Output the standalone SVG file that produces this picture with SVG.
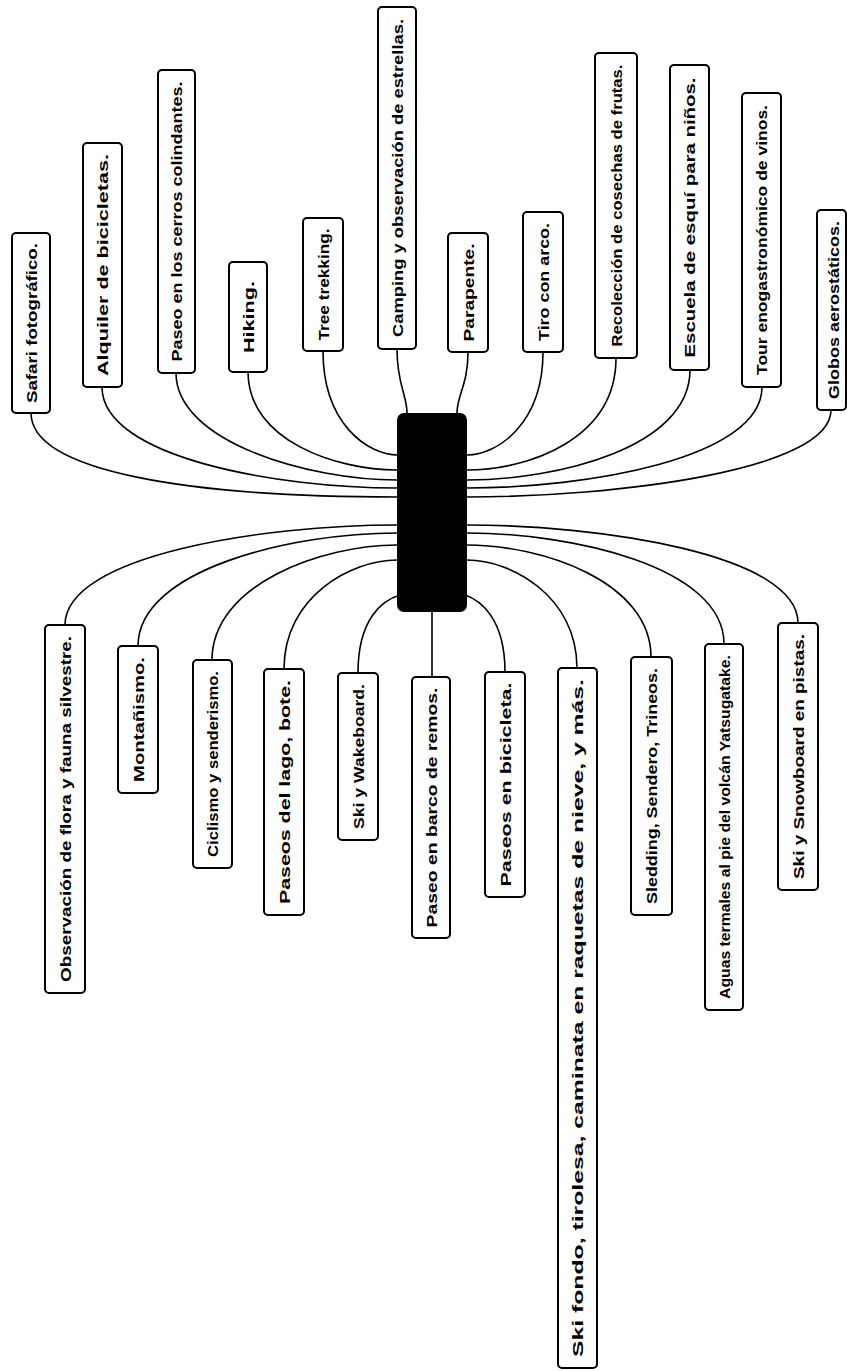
<svg xmlns="http://www.w3.org/2000/svg" width="847" height="1371" viewBox="0 0 847 1371">
<style>
.box{fill:#fff;stroke:#000;stroke-width:2}
.lbl{font-family:"Liberation Sans",Arial,sans-serif;font-size:15px;font-weight:bold;fill:#000;text-anchor:middle;dominant-baseline:central}
.con{fill:none;stroke:#000;stroke-width:1.6}
</style>
<rect width="847" height="1371" fill="#fff"/>
<g id="connectors">
<path class="con" d="M31,413 C31,472 191,497 397,497"/>
<path class="con" d="M102,387 C102,458 279,488 397,488"/>
<path class="con" d="M176,373 C176,442 309,480 397,480"/>
<path class="con" d="M248,372 C248,441 337,470 397,470"/>
<path class="con" d="M323,351 C323,424 368,455 398,455"/>
<path class="con" d="M397,349 C397,385 407,395 407,413"/>
<path class="con" d="M468,352 C468,385 457,395 457,413"/>
<path class="con" d="M543,352 C543,424 497,455 467,455"/>
<path class="con" d="M616,358 C616,440 527,470 467,470"/>
<path class="con" d="M690,370 C690,448 556,480 467,480"/>
<path class="con" d="M762,387 C762,459 585,488 467,488"/>
<path class="con" d="M831,410 C831,471 613,497 467,497"/>
<path class="con" d="M65,625 C65,555 264,525 397,525"/>
<path class="con" d="M138,646 C138,569 293,533 397,533"/>
<path class="con" d="M212,660 C212,584 323,545 397,545"/>
<path class="con" d="M284,669 C284,596 352,560 397,560"/>
<path class="con" d="M358,673 C358,618 383,600 400,595"/>
<path class="con" d="M432,612 L432,677" stroke-width="2.2"/>
<path class="con" d="M505,672 C505,618 480,600 465,595"/>
<path class="con" d="M577,668 C577,596 511,560 467,560"/>
<path class="con" d="M651,657 C651,581 541,545 467,545"/>
<path class="con" d="M724,644 C724,566 570,533 467,533"/>
<path class="con" d="M798,623 C798,554 599,525 467,525"/>
</g>
<g id="center"><rect x="397" y="413" width="70" height="199" rx="7" fill="#000"/></g>
<g id="t1"><rect class="box" x="12" y="233" width="38" height="180" rx="4"/><text class="lbl" transform="translate(31,323) rotate(-90)" textLength="160" lengthAdjust="spacingAndGlyphs">Safari fotográfico.</text></g>
<g id="t2"><rect class="box" x="83" y="143" width="39" height="244" rx="4"/><text class="lbl" transform="translate(102.5,265) rotate(-90)" textLength="222" lengthAdjust="spacingAndGlyphs">Alquiler de bicicletas.</text></g>
<g id="t3"><rect class="box" x="158" y="70" width="37" height="303" rx="4"/><text class="lbl" transform="translate(176.5,221.5) rotate(-90)" textLength="280" lengthAdjust="spacingAndGlyphs">Paseo en los cerros colindantes.</text></g>
<g id="t4"><rect class="box" x="229" y="262" width="38" height="110" rx="4"/><text class="lbl" transform="translate(248,317) rotate(-90)" textLength="72" lengthAdjust="spacingAndGlyphs">Hiking.</text></g>
<g id="t5"><rect class="box" x="303" y="218" width="40" height="133" rx="4"/><text class="lbl" transform="translate(323,284.5) rotate(-90)" textLength="112" lengthAdjust="spacingAndGlyphs">Tree trekking.</text></g>
<g id="t6"><rect class="box" x="378" y="7" width="38" height="342" rx="4"/><text class="lbl" transform="translate(397,178) rotate(-90)" textLength="318" lengthAdjust="spacingAndGlyphs">Camping y observación de estrellas.</text></g>
<g id="t7"><rect class="box" x="448" y="233" width="40" height="119" rx="4"/><text class="lbl" transform="translate(468,292.5) rotate(-90)" textLength="98" lengthAdjust="spacingAndGlyphs">Parapente.</text></g>
<g id="t8"><rect class="box" x="523" y="212" width="40" height="140" rx="4"/><text class="lbl" transform="translate(543,282) rotate(-90)" textLength="118" lengthAdjust="spacingAndGlyphs">Tiro con arco.</text></g>
<g id="t9"><rect class="box" x="595" y="53" width="42" height="305" rx="4"/><text class="lbl" transform="translate(616,205.5) rotate(-90)" textLength="282" lengthAdjust="spacingAndGlyphs">Recolección de cosechas de frutas.</text></g>
<g id="t10"><rect class="box" x="670" y="65" width="39" height="305" rx="4"/><text class="lbl" transform="translate(689.5,217.5) rotate(-90)" textLength="280" lengthAdjust="spacingAndGlyphs">Escuela de esquí para niños.</text></g>
<g id="t11"><rect class="box" x="742" y="93" width="39" height="294" rx="4"/><text class="lbl" transform="translate(761.5,240) rotate(-90)" textLength="270" lengthAdjust="spacingAndGlyphs">Tour enogastronómico de vinos.</text></g>
<g id="t12"><rect class="box" x="817" y="210" width="29" height="200" rx="4"/><text class="lbl" transform="translate(833,310) rotate(-90)" textLength="178" lengthAdjust="spacingAndGlyphs">Globos aerostáticos.</text></g>
<g id="b1"><rect class="box" x="45" y="625" width="40" height="368" rx="4"/><text class="lbl" transform="translate(65,809) rotate(-90)" textLength="346" lengthAdjust="spacingAndGlyphs">Observación de flora y fauna silvestre.</text></g>
<g id="b2"><rect class="box" x="118" y="646" width="40" height="147" rx="4"/><text class="lbl" transform="translate(138,719.5) rotate(-90)" textLength="125" lengthAdjust="spacingAndGlyphs">Montañismo.</text></g>
<g id="b3"><rect class="box" x="193" y="660" width="39" height="208" rx="4"/><text class="lbl" transform="translate(212.5,764) rotate(-90)" textLength="186" lengthAdjust="spacingAndGlyphs">Ciclismo y senderismo.</text></g>
<g id="b4"><rect class="box" x="264" y="669" width="40" height="246" rx="4"/><text class="lbl" transform="translate(284,792) rotate(-90)" textLength="224" lengthAdjust="spacingAndGlyphs">Paseos del lago, bote.</text></g>
<g id="b5"><rect class="box" x="338" y="673" width="40" height="167" rx="4"/><text class="lbl" transform="translate(358,756.5) rotate(-90)" textLength="145" lengthAdjust="spacingAndGlyphs">Ski y Wakeboard.</text></g>
<g id="b6"><rect class="box" x="412" y="677" width="38" height="261" rx="4"/><text class="lbl" transform="translate(431,807.5) rotate(-90)" textLength="240" lengthAdjust="spacingAndGlyphs">Paseo en barco de remos.</text></g>
<g id="b7"><rect class="box" x="485" y="672" width="40" height="225" rx="4"/><text class="lbl" transform="translate(505,784.5) rotate(-90)" textLength="204" lengthAdjust="spacingAndGlyphs">Paseos en bicicleta.</text></g>
<g id="b8"><rect class="box" x="558" y="668" width="39" height="700" rx="4"/><text class="lbl" transform="translate(577.5,1018) rotate(-90)" textLength="678" lengthAdjust="spacingAndGlyphs">Ski fondo, tirolesa, caminata en raquetas de nieve, y más.</text></g>
<g id="b9"><rect class="box" x="631" y="657" width="41" height="258" rx="4"/><text class="lbl" transform="translate(651.5,786) rotate(-90)" textLength="236" lengthAdjust="spacingAndGlyphs">Sledding, Sendero, Trineos.</text></g>
<g id="b10"><rect class="box" x="705" y="644" width="38" height="366" rx="4"/><text class="lbl" transform="translate(724,827) rotate(-90)" textLength="344" lengthAdjust="spacingAndGlyphs">Aguas termales al pie del volcán Yatsugatake.</text></g>
<g id="b11"><rect class="box" x="778" y="623" width="40" height="267" rx="4"/><text class="lbl" transform="translate(798,756.5) rotate(-90)" textLength="245" lengthAdjust="spacingAndGlyphs">Ski y Snowboard en pistas.</text></g>
</svg>
